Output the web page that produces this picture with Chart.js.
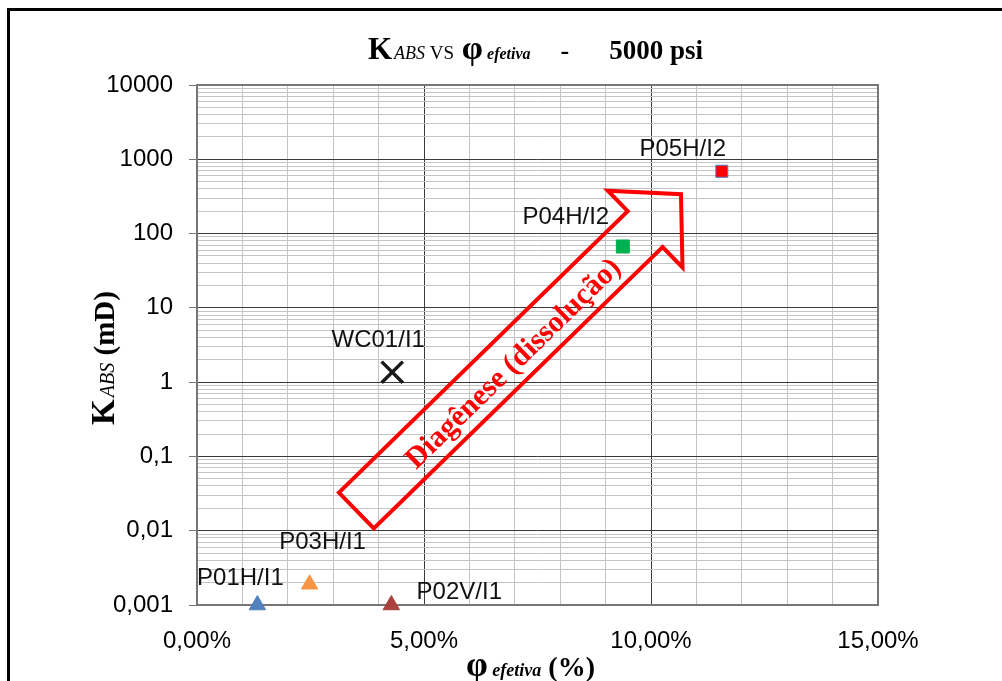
<!DOCTYPE html>
<html>
<head>
<meta charset="utf-8">
<script src="https://cdn.jsdelivr.net/npm/chart.js@4.4.0/dist/chart.umd.min.js"></script>
<style>
  html, body { margin: 0; padding: 0; background: #ffffff; }
  #wrap { position: relative; width: 1002px; height: 681px; }
  canvas { display: block; }
</style>
</head>
<body>
<div id="wrap"><canvas id="chart" width="1002" height="681"></canvas></div>
<script>
// ---- data ----
const sampleNames    = ['P01H/I1', 'P02V/I1', 'P03H/I1', 'WC01/I1', 'P04H/I2', 'P05H/I2'];
const porosityPct    = [1.33, 4.28, 2.48, 4.30, 9.38, 11.56];   // φ efetiva (%)
const permeabilityMd = [0.001, 0.001, 0.0019, 1.36, 67, 690];  // K ABS (mD)

const xTickLabels = ['0,00%', '5,00%', '10,00%', '15,00%'];
const yTickLabels = ['0,001', '0,01', '0,1', '1', '10', '100', '1000', '10000'];
const yDecades    = [-3, -2, -1, 0, 1, 2, 3, 4];

// trend arrow (data coordinates: φ %, K mD)
const trendTail   = { x: 3.51, y: 0.0187 };
const trendTip    = { x: 10.66, y: 339 };
const trendText   = 'Diagênese (dissolução)';
const trendTextAt = { x: 6.98, y: 1.75 };

// ---- styles ----
const SANS  = '"Liberation Sans", Arial, sans-serif';
const SERIF = '"Liberation Serif", "Times New Roman", serif';
const MAJOR_GRID = '#3a3a3a';
const MINOR_GRID = '#c4c4c4';
const FRAME = '#767676';

const markerStyles = [
  { pointStyle: 'triangle', radius: 9.5, fill: '#4F81BD', stroke: '#4F81BD', width: 1 },
  { pointStyle: 'triangle', radius: 9.5, fill: '#A8423E', stroke: '#A8423E', width: 1 },
  { pointStyle: 'triangle', radius: 9.5, fill: '#F79646', stroke: '#F79646', width: 1 },
  { pointStyle: 'crossRot', radius: 15,  fill: '#1a1a1a', stroke: '#1a1a1a', width: 3.5 },
  { pointStyle: 'rect',     radius: 9.2, fill: '#00B050', stroke: '#00B050', width: 1 },
  { pointStyle: 'rect',     radius: 8.5, fill: '#FF0000', stroke: '#4F81BD', width: 1 }
];
const labelOffsets = [
  { dx: -17, dy: -27 }, { dx: 68, dy: -13 }, { dx: 13, dy: -42 },
  { dx: -14, dy: -32 }, { dx: -57, dy: -29 }, { dx: -39, dy: -22 }
];
const arrowShape = { shaftWidth: 50, headWidth: 107, headLength: 50, line: 4, color: '#FF0000' };

// ---- helpers ----
function drawRich(ctx, segs, cx, baseY) {
  const widths = segs.map(s => { ctx.font = s.font; return ctx.measureText(s.text).width + (s.gap || 0); });
  const total = widths.reduce((a, b) => a + b, 0);
  let x = cx - total / 2;
  ctx.textAlign = 'left';
  ctx.textBaseline = 'alphabetic';
  segs.forEach((s, i) => {
    ctx.font = s.font;
    ctx.fillText(s.text, x + (s.gap || 0), baseY + (s.rise || 0));
    x += widths[i];
  });
}

const titleSegs = [
  { text: 'K', font: 'bold 31px ' + SERIF },
  { text: 'ABS', font: 'italic 18px ' + SERIF, gap: 2 },
  { text: ' VS ', font: '19px ' + SERIF },
  { text: 'φ', font: 'bold 34px ' + SERIF, gap: 3 },
  { text: ' efetiva', font: 'italic bold 16px ' + SERIF },
  { text: '-', font: 'bold 26px ' + SERIF, gap: 30 },
  { text: '5000 psi', font: 'bold 27px ' + SERIF, gap: 40 }
];
const yTitleSegs = [
  { text: 'K', font: 'bold 33px ' + SERIF },
  { text: 'ABS', font: 'italic 20px ' + SERIF, gap: 2 },
  { text: ' (mD)', font: 'bold 29px ' + SERIF }
];
const xTitleSegs = [
  { text: 'φ', font: 'bold 35px ' + SERIF },
  { text: ' efetiva', font: 'italic bold 18px ' + SERIF },
  { text: ' (%)', font: 'bold 28px ' + SERIF }
];

// ---- plugin: frame, arrow, labels, titles ----
const decorations = {
  id: 'decorations',
  beforeDatasetsDraw(chart) {
    const { ctx, chartArea: a } = chart;
    ctx.save();
    ctx.strokeStyle = FRAME;
    ctx.lineWidth = 2;
    ctx.strokeRect(a.left, a.top, a.right - a.left, a.bottom - a.top);
    ctx.restore();
  },
  afterDatasetsDraw(chart) {
    const { ctx, scales } = chart;
    const xs = scales.x, ys = scales.y;
    // trend arrow
    const T = { x: xs.getPixelForValue(trendTail.x), y: ys.getPixelForValue(trendTail.y) };
    const P = { x: xs.getPixelForValue(trendTip.x),  y: ys.getPixelForValue(trendTip.y) };
    const L = Math.hypot(P.x - T.x, P.y - T.y);
    const u = { x: (P.x - T.x) / L, y: (P.y - T.y) / L };
    const n = { x: -u.y, y: u.x };
    const B = { x: P.x - u.x * arrowShape.headLength, y: P.y - u.y * arrowShape.headLength };
    const sw = arrowShape.shaftWidth / 2, hw = arrowShape.headWidth / 2;
    const pts = [
      [T.x - n.x * sw, T.y - n.y * sw],
      [B.x - n.x * sw, B.y - n.y * sw],
      [B.x - n.x * hw, B.y - n.y * hw],
      [P.x, P.y],
      [B.x + n.x * hw, B.y + n.y * hw],
      [B.x + n.x * sw, B.y + n.y * sw],
      [T.x + n.x * sw, T.y + n.y * sw]
    ];
    ctx.save();
    ctx.beginPath();
    pts.forEach((p, i) => i ? ctx.lineTo(p[0], p[1]) : ctx.moveTo(p[0], p[1]));
    ctx.closePath();
    ctx.lineJoin = 'miter';
    ctx.lineWidth = arrowShape.line;
    ctx.strokeStyle = arrowShape.color;
    ctx.stroke();
    // text along the arrow
    const tx = xs.getPixelForValue(trendTextAt.x), ty = ys.getPixelForValue(trendTextAt.y);
    ctx.translate(tx, ty);
    ctx.rotate(Math.atan2(u.y, u.x));
    ctx.fillStyle = arrowShape.color;
    ctx.font = 'bold 30px ' + SERIF;
    ctx.textAlign = 'center';
    ctx.textBaseline = 'middle';
    ctx.fillText(trendText, 0, 0);
    ctx.restore();

    // sample labels
    ctx.save();
    ctx.font = '24px ' + SANS;
    ctx.fillStyle = '#111111';
    ctx.textAlign = 'center';
    ctx.textBaseline = 'middle';
    chart.data.datasets.forEach((ds, i) => {
      const el = chart.getDatasetMeta(i).data[0];
      const off = labelOffsets[i];
      ctx.fillText(ds.label, el.x + off.dx, el.y + off.dy);
    });
    ctx.restore();
  },
  afterDraw(chart) {
    const { ctx, chartArea: a } = chart;
    ctx.save();
    ctx.fillStyle = '#000000';
    // chart title
    drawRich(ctx, titleSegs, (a.left + a.right) / 2 - 2, 59);
    // x title
    drawRich(ctx, xTitleSegs, (a.left + a.right) / 2 - 7, 676);
    // y title (rotated)
    ctx.translate(114, 358);
    ctx.rotate(-Math.PI / 2);
    drawRich(ctx, yTitleSegs, 0, 0);
    ctx.restore();
    // outer frame
    ctx.save();
    ctx.fillStyle = '#000000';
    ctx.fillRect(7, 8, 995, 3);
    ctx.fillRect(7, 8, 3, 673);
    ctx.restore();
  }
};

// ---- chart ----
const datasets = sampleNames.map((name, i) => {
  const s = markerStyles[i];
  return {
    label: name,
    data: [{ x: porosityPct[i], y: permeabilityMd[i] }],
    pointStyle: s.pointStyle,
    pointRadius: s.radius,
    pointHoverRadius: s.radius,
    backgroundColor: s.fill,
    borderColor: s.stroke,
    borderWidth: s.width,
    clip: false
  };
});

function buildLogTicks() {
  const ticks = [];
  yDecades.forEach((e, k) => {
    const top = (k === yDecades.length - 1) ? 1 : 9;
    for (let m = 1; m <= top; m++) {
      ticks.push({ value: Number((m * Math.pow(10, e)).toPrecision(12)), lbl: m === 1 ? yTickLabels[k] : '' });
    }
  });
  return ticks;
}

new Chart(document.getElementById('chart'), {
  type: 'scatter',
  data: { datasets },
  options: {
    responsive: false,
    animation: false,
    devicePixelRatio: 1,
    layout: { padding: { left: 0, right: 124, top: 85, bottom: 0 } },
    plugins: { legend: { display: false }, tooltip: { enabled: false }, title: { display: false } },
    scales: {
      x: {
        type: 'linear',
        position: 'bottom',
        min: 0, max: 15,
        afterFit: s => { s.height = 76; },
        border: { display: false },
        grid: {
          drawTicks: false,
          lineWidth: 1,
          color: c => (c.tick && c.tick.value % 5 === 0) ? MAJOR_GRID : MINOR_GRID
        },
        ticks: {
          stepSize: 1,
          autoSkip: false,
          maxRotation: 0,
          padding: 22,
          color: '#000000',
          font: { family: SANS, size: 24 },
          callback: v => (v % 5 === 0) ? xTickLabels[v / 5] : ''
        }
      },
      y: {
        type: 'logarithmic',
        position: 'left',
        min: 0.001, max: 10000,
        afterFit: s => { s.width = 197; },
        afterBuildTicks: s => { s.ticks = buildLogTicks(); },
        border: { display: false },
        grid: {
          drawTicks: true,
          tickLength: 8,
          lineWidth: 1,
          color: c => (c.tick && c.tick.lbl) ? MAJOR_GRID : MINOR_GRID,
          tickColor: c => (c.tick && c.tick.lbl) ? FRAME : 'rgba(0,0,0,0)'
        },
        ticks: {
          autoSkip: false,
          padding: 16,
          color: '#000000',
          font: { family: SANS, size: 24 },
          callback: (v, i, ticks) => ticks[i].lbl || ''
        }
      }
    }
  },
  plugins: [decorations]
});
</script>
</body>
</html>
